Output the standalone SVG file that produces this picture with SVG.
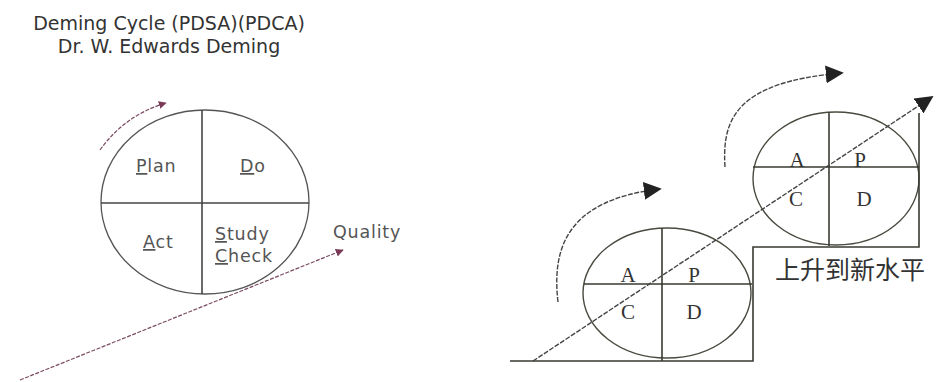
<svg xmlns="http://www.w3.org/2000/svg" width="936" height="382" viewBox="0 0 936 382">
<defs>
<style>
.title{font-family:"DejaVu Sans",Verdana,sans-serif;font-size:19px;fill:#333}
.lbl{font-family:"DejaVu Sans",Verdana,sans-serif;font-size:17.5px;letter-spacing:0.8px;fill:#555}
.u{text-decoration:underline}
.ser{font-family:"Liberation Serif","Times New Roman",serif;font-size:21px;fill:#333}
.zh{font-family:"Noto Sans CJK SC","Noto Sans CJK TC",sans-serif;font-size:25px;fill:#333}
.el{fill:none;stroke:#555;stroke-width:1.3}
.ln{fill:none;stroke:#444;stroke-width:1.6}
.rel{fill:none;stroke:#4a4a40;stroke-width:1.4}
.rln{fill:none;stroke:#3a3a32;stroke-width:1.6}
.marr{fill:none;stroke:#7a4a62;stroke-width:1.2;stroke-dasharray:4 1.5}
.darr{fill:none;stroke:#444;stroke-width:1.4;stroke-dasharray:5 1.5}
</style>
<marker id="mh" viewBox="0 0 10 10" refX="9" refY="5" markerWidth="8" markerHeight="8" orient="auto" markerUnits="userSpaceOnUse"><path d="M0,0 L10,5 L0,10 z" fill="#7a3a55"/></marker>
<marker id="bh" viewBox="0 0 10 10" refX="9" refY="5" markerWidth="18" markerHeight="18" orient="auto" markerUnits="userSpaceOnUse"><path d="M0,0 L10,5 L0,10 z" fill="#222"/></marker>
</defs>
<rect width="936" height="382" fill="#fff"/>
<g id="title">
<text class="title" x="169" y="30" text-anchor="middle">Deming Cycle (PDSA)(PDCA)</text>
<text class="title" x="169" y="53" text-anchor="middle">Dr. W. Edwards Deming</text>
</g>
<g id="pdsa-cycle">
<ellipse class="el" cx="205" cy="202" rx="104" ry="92"/>
<line class="ln" x1="101" y1="203" x2="309" y2="203"/>
<line class="ln" x1="202" y1="110" x2="202" y2="294"/>
<text class="lbl" x="136" y="172"><tspan class="u">P</tspan>lan</text>
<text class="lbl" x="240" y="172"><tspan class="u">D</tspan>o</text>
<text class="lbl" x="143" y="248"><tspan class="u">A</tspan>ct</text>
<text class="lbl" x="215" y="240"><tspan class="u">S</tspan>tudy</text>
<text class="lbl" x="215" y="262"><tspan class="u">C</tspan>heck</text>
</g>
<g id="quality-label">
<text class="lbl" x="333" y="238">Quality</text>
</g>
<g id="lower-cycle">
<ellipse class="rel" cx="667" cy="293" rx="84" ry="65"/>
<line class="rln" x1="584" y1="284" x2="752" y2="284"/>
<line class="rln" x1="662" y1="228" x2="662" y2="361"/>
<text class="ser" x="628" y="282" text-anchor="middle">A</text>
<text class="ser" x="694" y="282" text-anchor="middle">P</text>
<text class="ser" x="628" y="319" text-anchor="middle">C</text>
<text class="ser" x="694" y="319" text-anchor="middle">D</text>
</g>
<g id="upper-cycle">
<ellipse class="rel" cx="836" cy="178.5" rx="83" ry="66.5"/>
<line class="rln" x1="753" y1="167" x2="919" y2="167"/>
<line class="rln" x1="829" y1="112" x2="829" y2="246"/>
<text class="ser" x="797" y="167" text-anchor="middle">A</text>
<text class="ser" x="860" y="167" text-anchor="middle">P</text>
<text class="ser" x="796" y="206" text-anchor="middle">C</text>
<text class="ser" x="864" y="206" text-anchor="middle">D</text>
</g>
<g id="steps">
<polyline class="rln" points="510,361 753,361 753,247 919,247 919,113"/>
<text class="zh" x="775" y="279">上升到新水平</text>
</g>
<g id="connectors">
<path class="marr" d="M100,150 Q125,115 166,103" marker-end="url(#mh)"/>
<line class="marr" x1="20" y1="380" x2="343" y2="250" marker-end="url(#mh)"/>
<path class="darr" d="M558,302 C552,250 565,200 660,189" marker-end="url(#bh)"/>
<path class="darr" d="M725,167 C722,120 735,82 842,73" marker-end="url(#bh)"/>
<line class="darr" x1="533" y1="361" x2="932" y2="97" marker-end="url(#bh)"/>
</g>
</svg>
